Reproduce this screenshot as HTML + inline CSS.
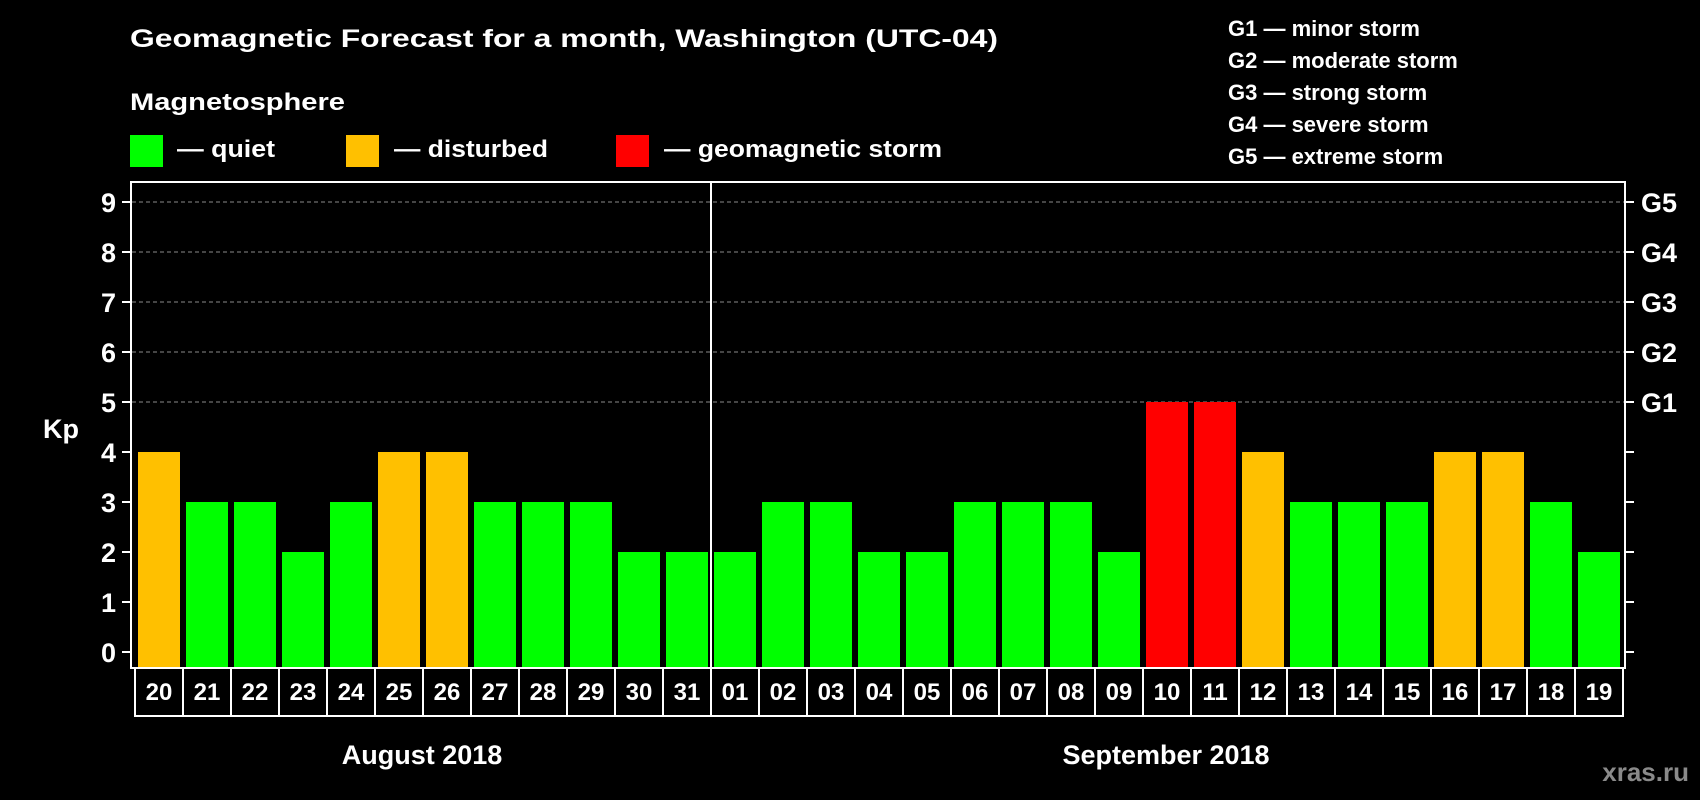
<!DOCTYPE html>
<html><head><meta charset="utf-8"><style>
html,body{margin:0;padding:0;background:#000;}
svg{display:block;font-family:"Liberation Sans",Arial,sans-serif;font-weight:bold;}
</style></head><body>
<svg id="chart" width="1700" height="800" viewBox="0 0 1700 800" xmlns="http://www.w3.org/2000/svg">
<rect width="1700" height="800" fill="#000"/>
<text x="130" y="47" font-size="25" fill="#fff" textLength="868" lengthAdjust="spacingAndGlyphs">Geomagnetic Forecast for a month, Washington (UTC-04)</text>
<text x="130" y="110" font-size="24" fill="#fff" textLength="215" lengthAdjust="spacingAndGlyphs">Magnetosphere</text>
<rect x="130" y="135" width="33" height="32" fill="#00ff00"/>
<text x="177" y="157" font-size="24" fill="#fff" textLength="98" lengthAdjust="spacingAndGlyphs">— quiet</text>
<rect x="346" y="135" width="33" height="32" fill="#ffc000"/>
<text x="394" y="157" font-size="24" fill="#fff" textLength="154" lengthAdjust="spacingAndGlyphs">— disturbed</text>
<rect x="616" y="135" width="33" height="32" fill="#ff0000"/>
<text x="664" y="157" font-size="24" fill="#fff" textLength="278" lengthAdjust="spacingAndGlyphs">— geomagnetic storm</text>
<g font-size="22" fill="#fff">
<text x="1228" y="36">G1 — minor storm</text>
<text x="1228" y="68">G2 — moderate storm</text>
<text x="1228" y="100">G3 — strong storm</text>
<text x="1228" y="132">G4 — severe storm</text>
<text x="1228" y="164">G5 — extreme storm</text>
</g>
<text x="43" y="438" font-size="27" fill="#fff">Kp</text>
<g id="grid"></g>
<g id="bars"></g>
<rect x="131" y="182" width="1494" height="486" fill="none" stroke="#fff" stroke-width="2"/>
<line x1="711" y1="182" x2="711" y2="668" stroke="#fff" stroke-width="2"/>
<g id="labels"></g>
<text x="422" y="764" font-size="27" fill="#fff" text-anchor="middle">August 2018</text>
<text x="1166" y="764" font-size="27" fill="#fff" text-anchor="middle">September 2018</text>
<text x="1689" y="781" font-size="26" fill="#8a8a8a" text-anchor="end">xras.ru</text>
</svg>
<script>
const days = ["20","21","22","23","24","25","26","27","28","29","30","31","01","02","03","04","05","06","07","08","09","10","11","12","13","14","15","16","17","18","19"];
const kpValues = [4,3,3,2,3,4,4,3,3,3,2,2,2,3,3,2,2,3,3,3,2,5,5,4,3,3,3,4,4,3,2];
const yTicks = [0,1,2,3,4,5,6,7,8,9];
const gLabels = ["","","","","","G1","G2","G3","G4","G5"];

const NS = "http://www.w3.org/2000/svg";
const y0 = 652, unit = 50, x0 = 138, step = 48, bw = 42;
function yScale(v){ return y0 - v*unit; }
function xScale(i){ return x0 + i*step; }
function colorFor(v){ return v>=5 ? "#ff0000" : (v>=4 ? "#ffc000" : "#00ff00"); }
function mk(tag, attrs, parent){ const e=document.createElementNS(NS,tag); for(const k in attrs) e.setAttribute(k, attrs[k]); parent.appendChild(e); return e; }

const grid = document.getElementById("grid");
yTicks.forEach((t)=>{
  const y = yScale(t);
  if (t >= 5) {
    const g = mk("line",{x1:132,x2:1624,y1:y,y2:y,stroke:"#8a8a8a","stroke-width":1,"stroke-dasharray":"4,3"},grid);
    
    
  }
  const tl = mk("line",{x1:122,x2:131,y1:y,y2:y,stroke:"#fff","stroke-width":2},grid);
  
  
  const tr = mk("line",{x1:1625,x2:1634,y1:y,y2:y,stroke:"#fff","stroke-width":2},grid);
  
  
  const lbl = mk("text",{x:116,y:y+10,"font-size":27,fill:"#fff","text-anchor":"end"},grid);
  lbl.textContent = String(t);
  
  
  if (gLabels[t]) {
    const gl = mk("text",{x:1641,y:y+10,"font-size":27,fill:"#fff"},grid);
    gl.textContent = gLabels[t];
    
    
  }
});

const bars = document.getElementById("bars");
kpValues.forEach((v,i)=>{
  const top = yScale(v);
  const r = mk("rect",{x:xScale(i),y:top,width:bw,height:668-top,fill:colorFor(v)},bars);
  
  
});

const labels = document.getElementById("labels");
days.forEach((d,i)=>{
  const bx = xScale(i) - 3;
  const b = mk("rect",{x:bx,y:668,width:step,height:48,fill:"none",stroke:"#fff","stroke-width":2},labels);
  
  
  const t = mk("text",{x:bx+step/2,y:700,"font-size":24,fill:"#fff","text-anchor":"middle"},labels);
  t.textContent = d;
  
  
});
</script>
</body></html>
